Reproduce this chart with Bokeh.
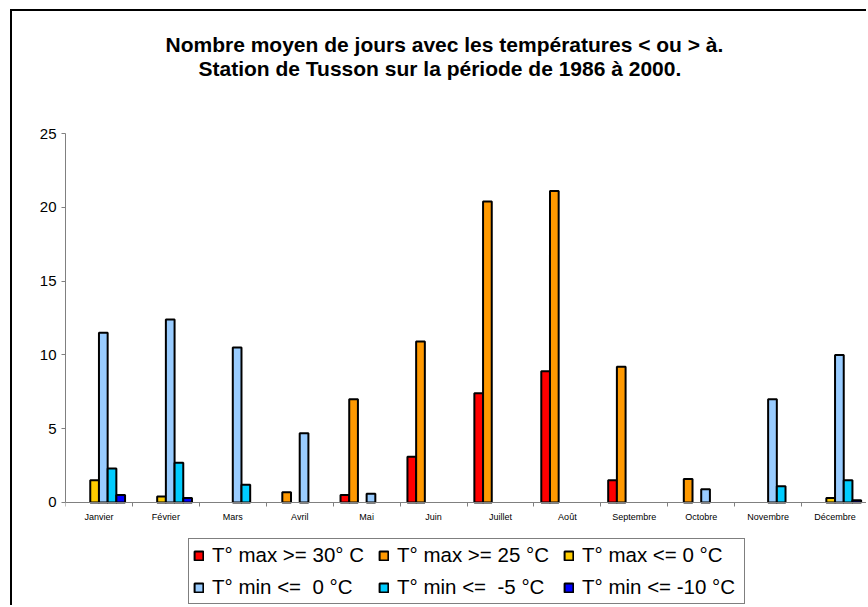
from bokeh.plotting import figure
from bokeh.models import (Range1d, LinearAxis, FixedTicker, ColumnDataSource,
                          Legend, LegendItem, Title)
from bokeh.core.properties import value
from bokeh.transform import dodge
from bokeh.embed import file_html
from bokeh.resources import INLINE

# ---- data ----
months = ["Janvier", "Février", "Mars", "Avril", "Mai", "Juin", "Juillet",
          "Août", "Septembre", "Octobre", "Novembre", "Décembre"]
tmax_ge30 = [0, 0, 0, 0, 0.5, 3.1, 7.4, 8.9, 1.5, 0, 0, 0]
tmax_ge25 = [0, 0, 0, 0.7, 7.0, 10.9, 20.4, 21.1, 9.2, 1.6, 0, 0]
tmax_le0 = [1.5, 0.4, 0, 0, 0, 0, 0, 0, 0, 0, 0, 0.3]
tmin_le0 = [11.5, 12.4, 10.5, 4.7, 0.6, 0, 0, 0, 0, 0.9, 7.0, 10.0]
tmin_le_5 = [2.3, 2.7, 1.2, 0, 0, 0, 0, 0, 0, 0, 1.1, 1.5]
tmin_le_10 = [0.5, 0.3, 0, 0, 0, 0, 0, 0, 0, 0, 0, 0.15]
series_labels = ["T° max >= 30° C", "T° max >= 25 °C", "T° max <= 0 °C",
                 "T° min <=  0 °C", "T° min <=  -5 °C", "T° min <= -10 °C"]
y_ticks = [0, 5, 10, 15, 20, 25]
title_line1 = "Nombre moyen de jours avec les températures < ou > à."
title_line2 = "Station de Tusson sur la période de 1986 à 2000."

series = [tmax_ge30, tmax_ge25, tmax_le0, tmin_le0, tmin_le_5, tmin_le_10]
colors = ["#FF0000", "#FF9900", "#FFCC00", "#99CCFF", "#00CCFF", "#0000FF"]

FONT = "Liberation Sans"

# frame spans from y=25 down to the bottom of the picture (legend lives inside)
Y_MAX = 25
Y_MIN = -7.114
LABEL_Y = -0.95

p = figure(width=856, height=596, output_backend="svg", toolbar_location=None,
           x_range=Range1d(0, 12), y_range=Range1d(Y_MIN, Y_MAX),
           x_axis_type=None, y_axis_type=None,
           min_border_left=53, min_border_right=0, min_border_top=122,
           min_border_bottom=0)
p.outline_line_color = None
p.grid.visible = False
p.styles = {"margin-left": "10px", "margin-top": "9px",
            "border-left": "2px solid #000000", "border-top": "2px solid #000000"}

# spacer between frame and titles, then the two title lines
spacer = Title(text=" ", text_font=FONT, text_font_size="1px", standoff=52)
t2 = Title(text=title_line2, align="left", offset=133,
           text_font=FONT, text_font_size="21px", text_font_style="bold",
           text_color="#000000", standoff=-2)
t1 = Title(text=title_line1, align="left", offset=100,
           text_font=FONT, text_font_size="21px", text_font_style="bold",
           text_color="#000000", standoff=0)
p.add_layout(spacer, "above")
p.add_layout(t2, "above")
p.add_layout(t1, "above")

# y axis
yaxis = LinearAxis(ticker=FixedTicker(ticks=y_ticks), bounds=(0, Y_MAX))
yaxis.axis_line_color = "#808080"
yaxis.major_tick_line_color = "#808080"
yaxis.major_tick_in = 0
yaxis.major_tick_out = 4
yaxis.minor_tick_line_color = None
yaxis.major_label_text_font = FONT
yaxis.major_label_text_font_size = "15px"
yaxis.major_label_text_color = "#000000"
yaxis.major_label_standoff = 5
p.add_layout(yaxis, "left")

# x axis drawn at y = 0 with ticks at the category boundaries
centers = [i + 0.5 for i in range(len(months))]
xaxis = LinearAxis(ticker=FixedTicker(ticks=[],
                                      minor_ticks=list(range(len(months) + 1))),
                   fixed_location=0)
xaxis.axis_line_color = "#808080"
xaxis.major_tick_line_color = None
xaxis.minor_tick_line_color = "#808080"
xaxis.minor_tick_in = 4
xaxis.minor_tick_out = 0
xaxis.major_label_text_font_size = "0px"
p.add_layout(xaxis, "above")

# month labels
lab_src = ColumnDataSource(dict(x=centers, y=[LABEL_Y] * len(months), t=months))
p.text(x="x", y="y", text="t", source=lab_src, text_font=value(FONT),
       text_font_size="9px", text_color="#000000", text_align="center",
       text_baseline="middle")

# bars
bw = 0.13
items = []
for j, (vals, col, lab) in enumerate(zip(series, colors, series_labels)):
    xs = [c for c, v in zip(centers, vals) if v > 0]
    ys = [v for v in vals if v > 0]
    src = ColumnDataSource(dict(x=xs, y=ys))
    r = p.vbar(x=dodge("x", (j - 2.5) * bw, range=p.x_range), top="y", bottom=0,
               width=bw, source=src, fill_color=col, line_color="#000000",
               line_width=2)
    items.append(LegendItem(label=lab, renderers=[r]))

legend = Legend(items=items, location=(123, 3), orientation="horizontal",
                ncols=3)
legend.label_text_font = FONT
legend.label_text_font_size = "20.5px"
legend.label_text_color = "#000000"
legend.glyph_width = 11
legend.glyph_height = 11
legend.label_standoff = 8
legend.label_width = 158
legend.spacing = 8
legend.padding = 4
legend.margin = 0
legend.border_line_color = "#000000"
legend.border_line_width = 1
legend.background_fill_color = "#FFFFFF"
legend.background_fill_alpha = 1
p.add_layout(legend)

open("out.html", "w").write(file_html(p, INLINE))
